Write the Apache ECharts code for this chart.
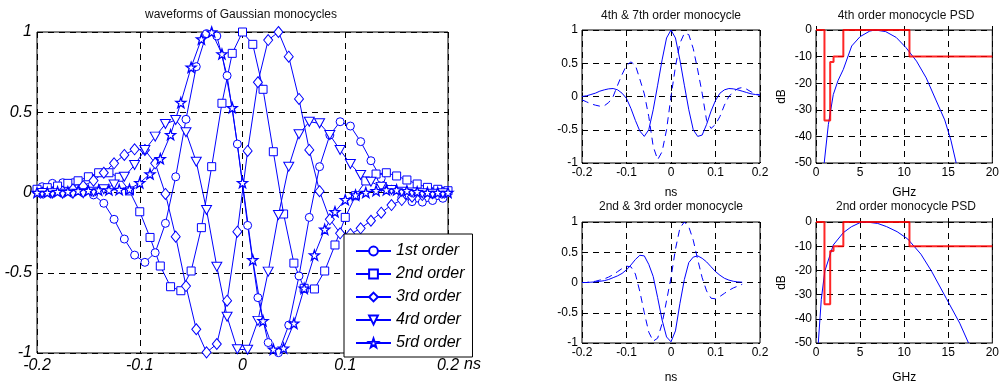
<!DOCTYPE html>
<html>
<head>
<meta charset="utf-8">
<title>Gaussian monocycles</title>
<script src="https://cdn.jsdelivr.net/npm/echarts@6/dist/echarts.min.js"></script>
<style>
html, body { margin: 0; padding: 0; background: #fff; }
#chart { width: 1002px; height: 385px; }
</style>
</head>
<body>
<div id="chart"></div>
<script>
// sample times in ns (full grid and half-sample grid)
const tGrid = [-0.2, -0.19, -0.18, -0.17, -0.16, -0.15, -0.14, -0.13, -0.12, -0.11, -0.1,
  -0.09, -0.08, -0.07, -0.06, -0.05, -0.04, -0.03, -0.02, -0.01, 0,
  0.01, 0.02, 0.03, 0.04, 0.05, 0.06, 0.07, 0.08, 0.09, 0.1,
  0.11, 0.12, 0.13, 0.14, 0.15, 0.16, 0.17, 0.18, 0.19, 0.2]
const tHalf = [-0.195, -0.185, -0.175, -0.165, -0.155, -0.145, -0.135, -0.125, -0.115, -0.105,
  -0.095, -0.085, -0.075, -0.065, -0.055, -0.045, -0.035, -0.025, -0.015, -0.005,
  0.005, 0.015, 0.025, 0.035, 0.045, 0.055, 0.065, 0.075, 0.085, 0.095,
  0.105, 0.115, 0.125, 0.135, 0.145, 0.155, 0.165, 0.175, 0.185, 0.195]

const legendNames = ['1st order', '2nd order', '3rd order', '4rd order', '5rd order']

// main plot
const order1 = [0.036, 0.057, 0.061, 0.061, 0.036, -0.015, -0.067, -0.167, -0.29, -0.39,
  -0.435, -0.375, -0.192, 0.098, 0.456, 0.784, 0.99, 0.975, 0.728, 0.302,
  -0.205, -0.655, -0.935, -0.998, -0.826, -0.52, -0.155, 0.161, 0.358, 0.441,
  0.414, 0.317, 0.198, 0.088, 0.02, -0.03, -0.057, -0.06, -0.05, -0.036]
const order2 = [0.02, 0.03, 0.04, 0.057, 0.073, 0.098, 0.123, 0.123, 0.095, 0.01,
  -0.12, -0.28, -0.458, -0.587, -0.612, -0.489, -0.219, 0.161, 0.556, 0.867, 1.0,
  0.923, 0.643, 0.254, -0.134, -0.44, -0.597, -0.601, -0.489, -0.327, -0.155,
  -0.02, 0.072, 0.115, 0.123, 0.103, 0.078, 0.053, 0.032, 0.02, 0.011]
const order3 = [0, 0, 0.005, 0.02, 0.04, 0.074, 0.123, 0.182, 0.234, 0.269,
  0.265, 0.182, -0.009, -0.275, -0.583, -0.852, -0.996, -0.944, -0.674, -0.244,
  0.259, 0.687, 0.95, 1.0, 0.846, 0.583, 0.265, 0.008, -0.167, -0.254,
  -0.26, -0.223, -0.176, -0.126, -0.078, -0.047, -0.026, -0.016, -0.005, 0]
const order4 = [-0.003, -0.005, -0.008, -0.008, -0.005, 0.005, 0.02, 0.05, 0.098, 0.171,
  0.265, 0.348, 0.427, 0.452, 0.375, 0.192, -0.109, -0.462, -0.774, -0.977,
  -0.98, -0.8, -0.493, -0.14, 0.161, 0.363, 0.441, 0.431, 0.358, 0.265,
  0.178, 0.109, 0.067, 0.035, 0.016, 0.005, 0, -0.005, -0.008, -0.005]
const order5 = [0, 0, 0.005, 0.005, 0.01, 0.012, 0.015, 0.016, 0.018, 0.02,
  0.06, 0.115, 0.21, 0.36, 0.56, 0.78, 0.956, 1.0, 0.863, 0.528, 0.061,
  -0.42, -0.8, -0.977, -0.97, -0.815, -0.597, -0.39, -0.23, -0.12, -0.045,
  -0.016, 0, 0.011, 0.016, 0.016, 0.011, 0.005, 0, 0, 0]

// small plots
const mono4 = [0, 0.01, 0.03, 0.05, 0.08, 0.1, 0.115, 0.12, 0.1, 0.05,
  -0.03, -0.18, -0.36, -0.52, -0.6, -0.5, -0.2, 0.17, 0.55, 0.88, 1.0,
  0.88, 0.55, 0.17, -0.2, -0.5, -0.6, -0.58, -0.42, -0.22, -0.06,
  0.05, 0.1, 0.12, 0.115, 0.1, 0.08, 0.06, 0.04, 0.03, 0.02]
const mono7 = [-0.05, -0.08, -0.11, -0.13, -0.145, -0.14, -0.09, 0, 0.17, 0.33,
  0.47, 0.52, 0.47, 0.26, 0.04, -0.3, -0.75, -0.95, -0.83, -0.5, 0,
  0.45, 0.8, 0.95, 0.93, 0.72, 0.4, 0.05, -0.36, -0.48, -0.42,
  -0.3, -0.13, 0, 0.07, 0.12, 0.135, 0.11, 0.07, 0.04, 0.02]
const mono2 = [0, 0, 0.005, 0.01, 0.02, 0.03, 0.05, 0.08, 0.11, 0.15,
  0.21, 0.29, 0.38, 0.45, 0.44, 0.3, 0.1, -0.25, -0.62, -0.9, -0.98,
  -0.8, -0.35, 0.05, 0.33, 0.42, 0.44, 0.4, 0.34, 0.26, 0.18,
  0.12, 0.07, 0.04, 0.02, 0.01, 0.005]
const mono3 = [0, 0, 0.01, 0.02, 0.04, 0.06, 0.09, 0.13, 0.18, 0.23,
  0.27, 0.26, 0.14, -0.15, -0.5, -0.82, -0.97, -0.92, -0.68, -0.3, 0.08,
  0.55, 0.9, 1.0, 0.92, 0.7, 0.38, 0.08, -0.14, -0.26, -0.27,
  -0.23, -0.18, -0.13, -0.09, -0.06, -0.03]

// PSD (GHz, dB)
const psdFreq4 = [0.93, 1.4, 1.96, 2.5, 3.1, 4.05, 5.0, 6.1, 6.7, 7.9, 9.1, 10.2, 11.4, 12.5, 13.6, 14.6, 15.3, 15.9]
const psdDb4 = [-50, -35.6, -24.3, -19, -14.8, -6, -2.5, -0.4, 0, -0.6, -2.8, -6.6, -11.7, -18, -26.3, -33.8, -41.4, -50]
const psdFreq2 = [0.26, 0.6, 1.0, 1.96, 3.1, 4.0, 5.0, 5.7, 7.0, 8.0, 9.2, 10.4, 11.9, 13.1, 14.8, 16.3, 17.3]
const psdDb2 = [-50, -32, -20.3, -9.5, -4.4, -2, -0.25, 0, -0.6, -1.9, -4, -7, -13.3, -20.3, -31.7, -41.8, -50]
const maskFreq = [0, 0.96, 0.96, 1.61, 1.61, 1.99, 1.99, 3.1, 3.1, 10.6, 10.6, 20]
const maskDb = [0, 0, -34, -34, -12, -12, -10, -10, 0, 0, -10, -10]

const FONT = 'Liberation Sans, Arial, sans-serif'
const BLUE = '#0000ff'
const STAR = 'path://M0,-10L2.35,-3.24L9.51,-3.09L3.8,1.24L5.88,8.09L0,4.2L-5.88,8.09L-3.8,1.24L-9.51,-3.09L-2.35,-3.24Z'

function pairs(xs, ys) {
  return ys.map((y, i) => [xs[i], y])
}

function makeAxis(idx, min, max, interval, big, extra) {
  return Object.assign({
    type: 'value',
    gridIndex: idx,
    min: min,
    max: max,
    interval: interval,
    axisLine: { show: false },
    axisTick: { show: true, inside: true, length: 4, lineStyle: { color: '#000' } },
    axisLabel: {
      color: '#000',
      fontFamily: FONT,
      fontSize: big ? 16 : 12,
      fontStyle: big ? 'italic' : 'normal',
      margin: big ? 5 : 4
    },
    splitLine: { show: true, lineStyle: { color: '#000', type: [6, 5], width: 1 } }
  }, extra || {})
}

const gridBox = { show: true, borderColor: '#000', borderWidth: 1, backgroundColor: '#fff' }
const nameStyle = { fontFamily: FONT, fontSize: 12, color: '#000' }

// hollow markers: white fill, thin blue outline
function markerLine(name, data, symbol, size, extra) {
  return Object.assign({
    name: name,
    type: 'line',
    xAxisIndex: 0,
    yAxisIndex: 0,
    data: data,
    symbol: symbol,
    symbolSize: size,
    showAllSymbol: true,
    color: BLUE,
    lineStyle: { color: BLUE, width: 1 },
    itemStyle: { color: '#fff', borderColor: BLUE, borderWidth: 1 },
    emphasis: { disabled: true }
  }, extra || {})
}

function plainLine(ax, data, dashed, color, width) {
  return {
    type: 'line',
    xAxisIndex: ax,
    yAxisIndex: ax,
    data: data,
    symbol: 'none',
    lineStyle: { color: color || BLUE, width: width || 1, type: dashed ? [7, 5] : 'solid' },
    emphasis: { disabled: true }
  }
}

const titleStyle = { fontSize: 12, fontWeight: 'normal', color: '#111', fontFamily: FONT }

const option = {
  animation: false,
  title: [
    { text: 'waveforms of Gaussian monocycles', left: 241, top: 9, textAlign: 'center', padding: 0, textStyle: titleStyle },
    { text: '4th & 7th order monocycle', left: 671, top: 10, textAlign: 'center', padding: 0, textStyle: titleStyle },
    { text: '4th order monocycle PSD', left: 906, top: 10, textAlign: 'center', padding: 0, textStyle: titleStyle },
    { text: '2nd & 3rd order monocycle', left: 671, top: 201, textAlign: 'center', padding: 0, textStyle: titleStyle },
    { text: '2nd order monocycle PSD', left: 906, top: 201, textAlign: 'center', padding: 0, textStyle: titleStyle }
  ],
  grid: [
    Object.assign({ left: 37, top: 32, width: 411, height: 321 }, gridBox),
    Object.assign({ left: 582, top: 30, width: 178, height: 133 }, gridBox),
    Object.assign({ left: 816, top: 30, width: 177, height: 133 }, gridBox),
    Object.assign({ left: 582, top: 222, width: 178, height: 131 }, gridBox),
    Object.assign({ left: 816, top: 222, width: 177, height: 131 }, gridBox)
  ],
  xAxis: [
    makeAxis(0, -0.2, 0.2, 0.1, true),
    makeAxis(1, -0.2, 0.2, 0.1, false, { name: 'ns', nameLocation: 'middle', nameGap: 24, nameTextStyle: nameStyle }),
    makeAxis(2, 0, 20, 5, false, { name: 'GHz', nameLocation: 'middle', nameGap: 24, nameTextStyle: nameStyle }),
    makeAxis(3, -0.2, 0.2, 0.1, false, { name: 'ns', nameLocation: 'middle', nameGap: 29, nameTextStyle: nameStyle }),
    makeAxis(4, 0, 20, 5, false, { name: 'GHz', nameLocation: 'middle', nameGap: 29, nameTextStyle: nameStyle })
  ],
  yAxis: [
    makeAxis(0, -1, 1, 0.5, true),
    makeAxis(1, -1, 1, 0.5, false),
    makeAxis(2, -50, 0, 10, false, { name: 'dB', nameLocation: 'middle', nameGap: 28, nameTextStyle: nameStyle }),
    makeAxis(3, -1, 1, 0.5, false),
    makeAxis(4, -50, 0, 10, false, { name: 'dB', nameLocation: 'middle', nameGap: 28, nameTextStyle: nameStyle })
  ],
  legend: {
    orient: 'vertical',
    left: 344,
    top: 234,
    data: legendNames,
    itemWidth: 35,
    itemHeight: 11,
    itemGap: 7,
    padding: [9, 8, 6, 11],
    backgroundColor: '#fff',
    borderColor: '#000',
    borderWidth: 1,
    borderRadius: 0,
    selectedMode: false,
    textStyle: { fontFamily: FONT, fontSize: 16, fontStyle: 'italic', color: '#000' },
    z: 20
  },
  graphic: [
    { type: 'text', left: 464, top: 357, style: { text: 'ns', font: 'italic 16px ' + FONT, fill: '#000' } }
  ],
  series: [
    markerLine(legendNames[0], pairs(tHalf, order1), 'circle', 8),
    markerLine(legendNames[1], pairs(tGrid, order2), 'rect', 8),
    markerLine(legendNames[2], pairs(tHalf, order3), 'diamond', [9, 11]),
    markerLine(legendNames[3], pairs(tHalf, order4), 'triangle', [10, 9], { symbolRotate: 180 }),
    markerLine(legendNames[4], pairs(tGrid, order5), STAR, 10, { itemStyle: { color: '#fff', borderColor: BLUE, borderWidth: 1.3 } }),

    plainLine(1, pairs(tGrid, mono4), false),
    plainLine(1, pairs(tGrid, mono7), true),
    plainLine(2, pairs(psdFreq4, psdDb4), false),
    plainLine(2, pairs(maskFreq, maskDb), false, 'rgba(255,0,0,0.85)', 2),
    plainLine(3, pairs(tGrid, mono2), false),
    plainLine(3, pairs(tGrid, mono3), true),
    plainLine(4, pairs(psdFreq2, psdDb2), false),
    plainLine(4, pairs(maskFreq, maskDb), false, 'rgba(255,0,0,0.85)', 2)
  ]
}

const myChart = echarts.init(document.getElementById('chart'), null, { renderer: 'canvas' })
myChart.setOption(option)
</script>
</body>
</html>
